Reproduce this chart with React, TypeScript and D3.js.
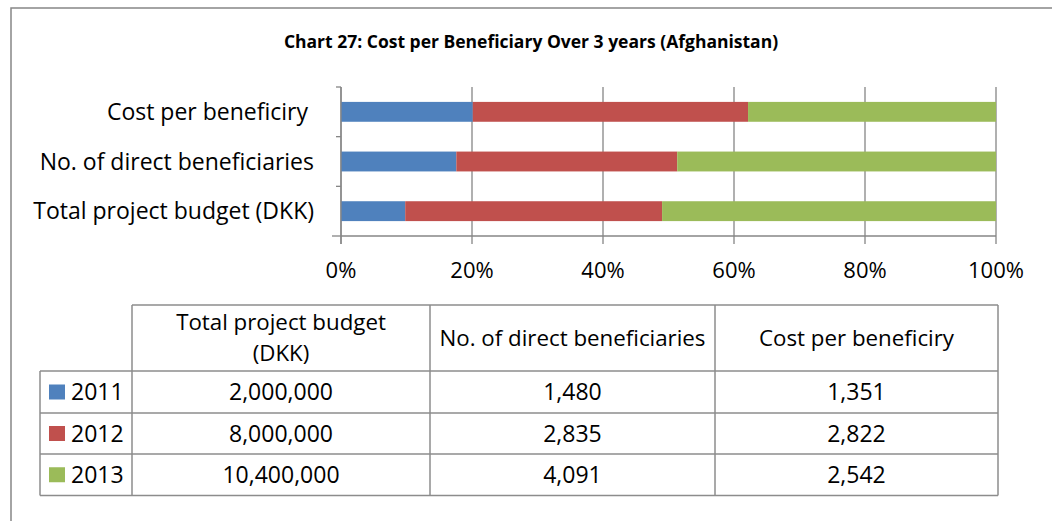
import React from "react";
import * as d3 from "d3";

const years = ["2011", "2012", "2013"];
const categories = ["Total project budget (DKK)", "No. of direct beneficiaries", "Cost per beneficiry"];
const axisLabels = ["Total project budget (DKK)", "No. of direct beneficiaries", "Cost per beneficiry "];
const tableHeaders = [["Total project budget", "(DKK)"], ["No. of direct beneficiaries"], ["Cost per beneficiry"]];
const budget = [2000000, 8000000, 10400000];
const beneficiaries = [1480, 2835, 4091];
const costPerBeneficiary = [1351, 2822, 2542];
const xTicks = [0, 0.2, 0.4, 0.6, 0.8, 1];
const colors = ["#4F81BD", "#C0504D", "#9BBB59"];
const title = "Chart 27: Cost per Beneficiary Over 3 years (Afghanistan)";

const FONT = "'Open Sans', sans-serif";
const W = 1052, H = 521;

export default function App() {
  const series = [budget, beneficiaries, costPerBeneficiary];
  const rows = categories.map((c, ci) => {
    const r: any = { cat: c };
    years.forEach((y, yi) => (r[y] = series[ci][yi]));
    return r;
  });
  const stacked = d3.stack<any>().keys(years).offset(d3.stackOffsetExpand)(rows);

  const x = d3.scaleLinear().domain([0, 1]).range([341, 996]);
  const yTop = 87, yBot = 236;
  const y = d3
    .scaleBand<string>()
    .domain([...categories].reverse())
    .range([yTop, yBot])
    .paddingInner(0.6)
    .paddingOuter(0.3);
  const step = y.step();
  const fmt = d3.format(",");
  const grid = "#868686";

  const colX = [40, 132, 430, 715, 998];
  const rowY = [305, 371, 413, 454, 495.5];
  const tableBorder = "#8c8c8c";
  const tableCols = [budget, beneficiaries, costPerBeneficiary];
  const fsT = 23;
  const fsH = 22.3;

  return (
    <svg width={W} height={H} style={{ position: "absolute", left: 0, top: 0, background: "#fff" }} fontFamily={FONT}>
      <rect x={0} y={0} width={W} height={H} fill="#fff" />
      {/* outer frame */}
      <path d={`M11,${H} V8 H${W}`} fill="none" stroke="#878787" strokeWidth={1.5} />
      <text x={531} y={48} textAnchor="middle" fontWeight="bold" fontSize={17.5} fill="#000">
        {title}
      </text>

      {/* gridlines + x ticks */}
      {xTicks.map((t) => (
        <line key={"g" + t} x1={x(t)} x2={x(t)} y1={yTop} y2={yBot + 8} stroke={grid} strokeWidth={1.3} />
      ))}
      {/* y ticks */}
      {d3.range(4).map((i) => (
        <line key={"yt" + i} x1={i === 3 ? 332 : 336} x2={341} y1={yTop + i * step} y2={yTop + i * step} stroke={grid} strokeWidth={1.3} />
      ))}
      <line x1={341} x2={996} y1={yBot} y2={yBot} stroke={grid} strokeWidth={1.3} />

      {/* bars */}
      {stacked.map((s, si) =>
        s.map((d: any) => (
          <rect
            key={si + d.data.cat}
            x={x(d[0])}
            width={x(d[1]) - x(d[0])}
            y={y(d.data.cat)}
            height={y.bandwidth()}
            fill={colors[si]}
          />
        ))
      )}
      <line x1={341} x2={341} y1={yTop} y2={yBot + 8} stroke={grid} strokeWidth={1.3} />

      {/* category labels */}
      {categories.map((c, i) => (
        <text key={c} x={314} y={(y(c) as number) + y.bandwidth() / 2 + 8} textAnchor="end" fontSize={23} fill="#000" style={{ whiteSpace: "pre" }}>
          {axisLabels[i]}
        </text>
      ))}
      {/* x tick labels */}
      {xTicks.map((t) => (
        <text key={"l" + t} x={x(t)} y={278} textAnchor="middle" fontSize={22} fill="#000">
          {Math.round(t * 100) + "%"}
        </text>
      ))}

      {/* data table */}
      <g fill="none" stroke={tableBorder} strokeWidth={1.5}>
        <line x1={colX[1]} x2={colX[4]} y1={rowY[0]} y2={rowY[0]} />
        {rowY.slice(1).map((ry) => (
          <line key={"h" + ry} x1={colX[0]} x2={colX[4]} y1={ry} y2={ry} />
        ))}
        {colX.map((cx, i) => (
          <line key={"v" + cx} x1={cx} x2={cx} y1={i === 0 ? rowY[1] : rowY[0]} y2={rowY[4]} />
        ))}
      </g>
      {tableHeaders.map((lines, ci) => {
        const cx = (colX[ci + 1] + colX[ci + 2]) / 2;
        return lines.length === 2 ? (
          <g key={"th" + ci}>
            <text x={cx} y={330} textAnchor="middle" fontSize={fsH} fill="#000">{lines[0]}</text>
            <text x={cx} y={361} textAnchor="middle" fontSize={fsH} fill="#000">{lines[1]}</text>
          </g>
        ) : (
          <text key={"th" + ci} x={cx} y={346} textAnchor="middle" fontSize={fsH} fill="#000">{lines[0]}</text>
        );
      })}
      {years.map((yr, ri) => {
        const cy = (rowY[ri + 1] + rowY[ri + 2]) / 2;
        return (
          <g key={"r" + yr}>
            <rect x={49} y={cy - 7.5} width={16} height={15} fill={colors[ri]} />
            <text x={71} y={cy + 8} fontSize={fsT} fill="#000">{yr}</text>
            {tableCols.map((col, ci) => (
              <text key={ci} x={(colX[ci + 1] + colX[ci + 2]) / 2} y={cy + 8} textAnchor="middle" fontSize={fsT} fill="#000">
                {fmt(col[ri])}
              </text>
            ))}
          </g>
        );
      })}
    </svg>
  );
}
